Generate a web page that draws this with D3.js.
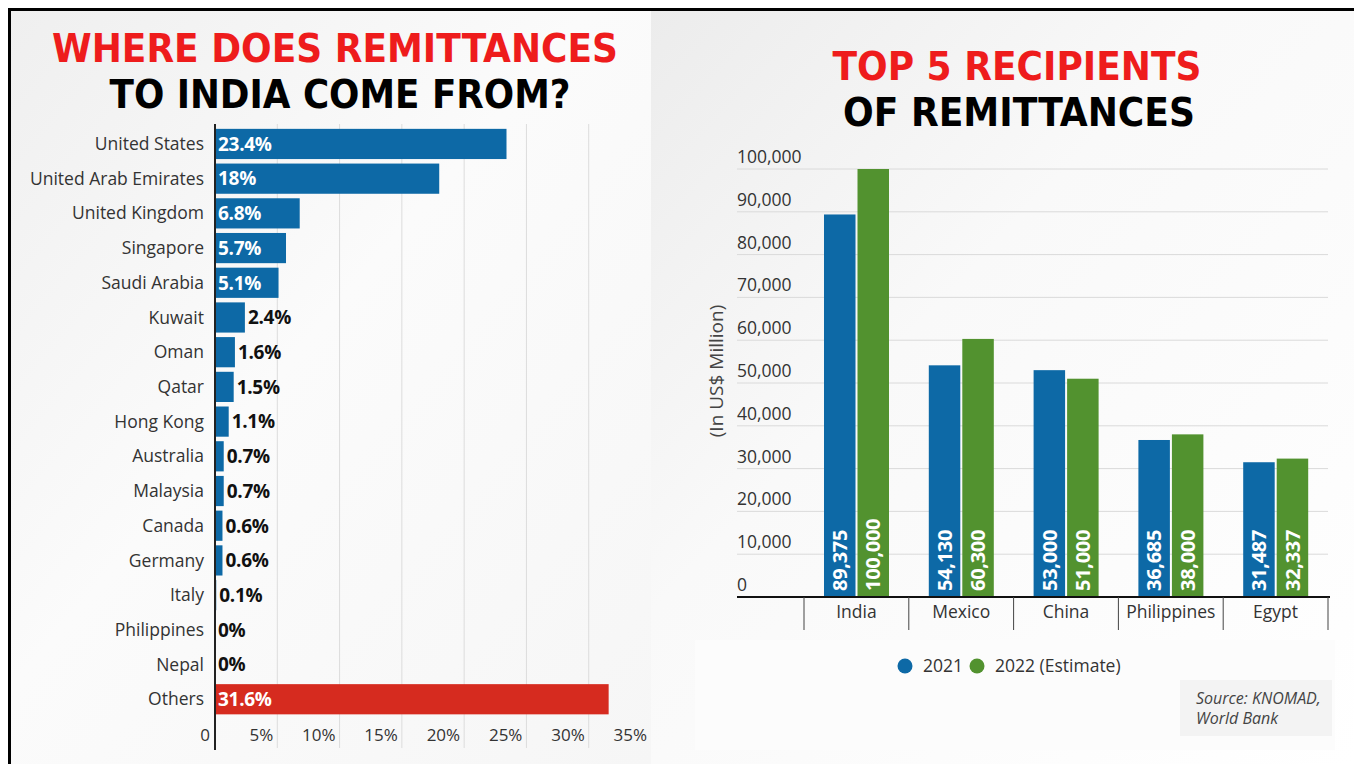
<!DOCTYPE html>
<html>
<head>
<meta charset="utf-8">
<script src="https://cdn.jsdelivr.net/npm/d3@7"></script>
<style>
  html, body { margin: 0; padding: 0; background: #fff; }
  svg { display: block; }
  text { font-family: "Open Sans", "Noto Sans", sans-serif; }
  .title { font-family: "Liberation Sans Narrow", "DejaVu Sans Condensed", sans-serif; font-weight: bold; }
</style>
</head>
<body>
<div id="chart"></div>
<script>
// left chart: share of remittances to India by source country (%)
var sources = ["United States", "United Arab Emirates", "United Kingdom", "Singapore", "Saudi Arabia",
  "Kuwait", "Oman", "Qatar", "Hong Kong", "Australia", "Malaysia", "Canada", "Germany", "Italy",
  "Philippines", "Nepal", "Others"];
var shares = [23.4, 18, 6.8, 5.7, 5.1, 2.4, 1.6, 1.5, 1.1, 0.7, 0.7, 0.6, 0.6, 0.1, 0, 0, 31.6];
var share_ticks = [0, 5, 10, 15, 20, 25, 30, 35];

// right chart: top 5 recipients (US$ million)
var recipients = ["India", "Mexico", "China", "Philippines", "Egypt"];
var years = ["2021", "2022 (Estimate)"];
var values_2021 = [89375, 54130, 53000, 36685, 31487];
var values_2022 = [100000, 60300, 51000, 38000, 32337];
var amount_ticks = [0, 10000, 20000, 30000, 40000, 50000, 60000, 70000, 80000, 90000, 100000];

var blue = "#0d69a6";
var green = "#52922f";
var red = "#d62b1f";
var title_red = "#ee1c1c";

var svg_width = 1354;
var svg_height = 764;

var svg = d3.select("#chart")
  .append("svg")
  .attr("width", svg_width)
  .attr("height", svg_height);

// background
var defs = svg.append("defs");
var lg = defs.append("linearGradient").attr("id", "bg-left").attr("x1", 0).attr("y1", 0).attr("x2", 1).attr("y2", 1);
lg.append("stop").attr("offset", "0%").attr("stop-color", "#efefef");
lg.append("stop").attr("offset", "45%").attr("stop-color", "#fbfbfb");
lg.append("stop").attr("offset", "100%").attr("stop-color", "#f6f6f6");
var rg = defs.append("linearGradient").attr("id", "bg-right").attr("x1", 0).attr("y1", 0).attr("x2", 1).attr("y2", 1);
rg.append("stop").attr("offset", "0%").attr("stop-color", "#ececec");
rg.append("stop").attr("offset", "40%").attr("stop-color", "#f9f9f9");
rg.append("stop").attr("offset", "100%").attr("stop-color", "#ffffff");

svg.append("rect").attr("x", 0).attr("y", 0).attr("width", svg_width).attr("height", svg_height).attr("fill", "#fff");
svg.append("rect").attr("x", 11).attr("y", 11).attr("width", 640).attr("height", svg_height - 11).attr("fill", "url(#bg-left)");
svg.append("rect").attr("x", 651).attr("y", 11).attr("width", svg_width - 651).attr("height", svg_height - 11).attr("fill", "url(#bg-right)");
svg.append("rect").attr("x", 695).attr("y", 640).attr("width", 640).attr("height", 110).attr("fill", "#fcfcfc");

// frame
svg.append("rect").attr("x", 8).attr("y", 8).attr("width", svg_width - 8).attr("height", 3).attr("fill", "#000");
svg.append("rect").attr("x", 8).attr("y", 8).attr("width", 3).attr("height", svg_height - 8).attr("fill", "#000");

// titles
function title(txt, cx, y, w, color) {
  svg.append("text")
    .attr("class", "title")
    .attr("x", cx - w / 2)
    .attr("y", y)
    .attr("textLength", w)
    .attr("lengthAdjust", "spacingAndGlyphs")
    .attr("font-size", "39px")
    .attr("fill", color)
    .text(txt);
}
title("WHERE DOES REMITTANCES", 335, 62, 566, title_red);
title("TO INDIA COME FROM?", 340, 108, 461, "#000");
title("TOP 5 RECIPIENTS", 1017, 80, 369, title_red);
title("OF REMITTANCES", 1019, 126, 352, "#000");

// ---------------- left chart ----------------
var x = d3.scaleLinear()
  .domain([0, 35])
  .range([215, 651]);

var y = d3.scaleBand()
  .domain(sources)
  .range([126.6, 716.6])
  .paddingInner(0.13)
  .paddingOuter(0.065);

var left = svg.append("g");

left.selectAll(".grid-x")
  .data(share_ticks.slice(1, -1))
  .enter()
  .append("line")
  .attr("class", "grid-x")
  .attr("x1", function(d) { return x(d); })
  .attr("x2", function(d) { return x(d); })
  .attr("y1", 124)
  .attr("y2", 748)
  .attr("stroke", "#dcdcdc")
  .attr("stroke-width", 1);

left.selectAll(".share-bar")
  .data(shares)
  .enter()
  .append("rect")
  .attr("class", "share-bar")
  .attr("x", x(0))
  .attr("y", function(d, i) { return y(sources[i]); })
  .attr("width", function(d) { return x(d) - x(0); })
  .attr("height", y.bandwidth())
  .attr("fill", function(d, i) { return sources[i] === "Others" ? red : blue; });

left.append("line")
  .attr("x1", x(0)).attr("x2", x(0))
  .attr("y1", 124).attr("y2", 750)
  .attr("stroke", "#222")
  .attr("stroke-width", 2);

left.selectAll(".source-label")
  .data(sources)
  .enter()
  .append("text")
  .attr("class", "source-label")
  .attr("x", 204)
  .attr("y", function(d) { return y(d) + y.bandwidth() / 2; })
  .attr("dy", "0.35em")
  .attr("text-anchor", "end")
  .attr("font-size", "17.5px")
  .attr("fill", "#333")
  .text(function(d) { return d; });

left.selectAll(".share-label")
  .data(shares)
  .enter()
  .append("text")
  .attr("class", "share-label")
  .attr("x", function(d) { return d >= 5 ? x(0) + 3 : x(d) + 3; })
  .attr("y", function(d, i) { return y(sources[i]) + y.bandwidth() / 2; })
  .attr("dy", "0.36em")
  .attr("font-size", "19px")
  .attr("font-weight", "bold")
  .attr("letter-spacing", "-0.3px")
  .attr("fill", function(d) { return d >= 5 ? "#fff" : "#111"; })
  .text(function(d) { return d + "%"; });

left.selectAll(".share-tick")
  .data(share_ticks)
  .enter()
  .append("text")
  .attr("class", "share-tick")
  .attr("x", function(d) { return d === 0 ? x(d) - 5 : x(d) - 4; })
  .attr("y", 741)
  .attr("text-anchor", "end")
  .attr("font-size", "17px")
  .attr("fill", "#333")
  .text(function(d) { return d === 0 ? "0" : d + "%"; });

// ---------------- right chart ----------------
var x0 = d3.scaleBand()
  .domain(recipients)
  .range([804, 1328]);

var x1 = d3.scaleBand()
  .domain(years)
  .range([20, 85])
  .paddingInner(0.06);

var y2 = d3.scaleLinear()
  .domain([0, 100000])
  .range([597, 169]);

var right = svg.append("g");

right.selectAll(".grid-y")
  .data(amount_ticks.slice(1))
  .enter()
  .append("line")
  .attr("class", "grid-y")
  .attr("x1", 737)
  .attr("x2", 1328)
  .attr("y1", function(d) { return y2(d); })
  .attr("y2", function(d) { return y2(d); })
  .attr("stroke", "#dadada")
  .attr("stroke-width", 1);

right.selectAll(".amount-tick")
  .data(amount_ticks)
  .enter()
  .append("text")
  .attr("class", "amount-tick")
  .attr("x", 737)
  .attr("y", function(d) { return y2(d) - 6; })
  .attr("font-size", "17.5px")
  .attr("fill", "#333")
  .text(function(d) { return d3.format(",")(d); });

right.append("text")
  .attr("transform", "translate(723,371) rotate(-90)")
  .attr("text-anchor", "middle")
  .attr("font-size", "19px")
  .attr("fill", "#444")
  .text("(In US$ Million)");

var groups = right.selectAll(".recipient")
  .data(recipients)
  .enter()
  .append("g")
  .attr("class", "recipient")
  .attr("transform", function(d) { return "translate(" + x0(d) + ",0)"; });

var bars = groups.selectAll(".amount-bar")
  .data(function(d, i) {
    return [
      {year: years[0], value: values_2021[i], color: blue},
      {year: years[1], value: values_2022[i], color: green}
    ];
  })
  .enter();

bars.append("rect")
  .attr("class", "amount-bar")
  .attr("x", function(d) { return x1(d.year); })
  .attr("y", function(d) { return y2(d.value); })
  .attr("width", x1.bandwidth())
  .attr("height", function(d) { return y2(0) - y2(d.value); })
  .attr("fill", function(d) { return d.color; });

bars.append("text")
  .attr("transform", function(d) {
    return "translate(" + (x1(d.year) + x1.bandwidth() / 2) + "," + (y2(0) - 6) + ") rotate(-90)";
  })
  .attr("dy", "0.36em")
  .attr("font-size", "20px")
  .attr("font-weight", "bold")
  .attr("letter-spacing", "-0.3px")
  .attr("fill", "#fff")
  .text(function(d) { return d3.format(",")(d.value); });

right.append("line")
  .attr("x1", 737).attr("x2", 1330)
  .attr("y1", y2(0)).attr("y2", y2(0))
  .attr("stroke", "#111")
  .attr("stroke-width", 2);

right.selectAll(".sep")
  .data(recipients.concat(["end"]))
  .enter()
  .append("line")
  .attr("class", "sep")
  .attr("x1", function(d) { return d === "end" ? x0.range()[1] : x0(d); })
  .attr("x2", function(d) { return d === "end" ? x0.range()[1] : x0(d); })
  .attr("y1", y2(0))
  .attr("y2", 630)
  .attr("stroke", "#444")
  .attr("stroke-width", 1);

right.selectAll(".recipient-label")
  .data(recipients)
  .enter()
  .append("text")
  .attr("class", "recipient-label")
  .attr("x", function(d) { return x0(d) + x0.bandwidth() / 2; })
  .attr("y", 618)
  .attr("text-anchor", "middle")
  .attr("font-size", "17.5px")
  .attr("fill", "#333")
  .text(function(d) { return d; });

// legend
var legend = right.append("g").attr("transform", "translate(905,666)");
var legend_x = [0, 72];
legend.selectAll("circle")
  .data(years)
  .enter()
  .append("circle")
  .attr("cx", function(d, i) { return legend_x[i]; })
  .attr("cy", 0)
  .attr("r", 7.5)
  .attr("fill", function(d, i) { return i === 0 ? blue : green; });
legend.selectAll("text")
  .data(years)
  .enter()
  .append("text")
  .attr("x", function(d, i) { return legend_x[i] + 18; })
  .attr("y", 0)
  .attr("dy", "0.35em")
  .attr("font-size", "17.5px")
  .attr("fill", "#333")
  .text(function(d) { return d; });

// source
svg.append("rect")
  .attr("x", 1180).attr("y", 680).attr("width", 152).attr("height", 56)
  .attr("fill", "#f3f3f3");
svg.append("text")
  .attr("x", 1196).attr("y", 704)
  .attr("font-size", "16px")
  .attr("font-style", "italic")
  .attr("fill", "#444")
  .text("Source: KNOMAD,");
svg.append("text")
  .attr("x", 1196).attr("y", 724)
  .attr("font-size", "16px")
  .attr("font-style", "italic")
  .attr("fill", "#444")
  .text("World Bank");
</script>
</body>
</html>
